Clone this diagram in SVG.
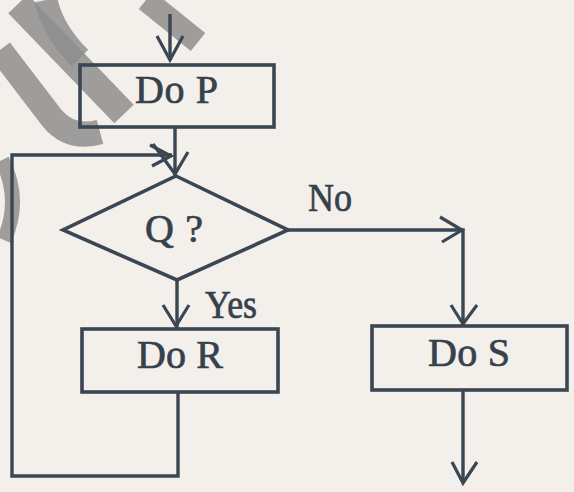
<svg xmlns="http://www.w3.org/2000/svg" width="574" height="492" viewBox="0 0 574 492">
<style>
.ln{fill:none;stroke:#3a4651;stroke-width:3.4;stroke-linejoin:miter}
.hd{fill:none;stroke:#3a4651;stroke-width:3.2}
.bx{fill:none;stroke:#3a4651;stroke-width:3.6}
.tx{font-family:"Liberation Serif","Times New Roman",serif;font-size:40px;fill:#36414b;stroke:#36414b;stroke-width:0.7}
.wm{fill:none;stroke:#8e8e8e;stroke-opacity:0.85;stroke-linecap:butt}
</style>
<rect x="0" y="0" width="574" height="492" fill="#f3efea"/>
<g id="watermark">
<line class="wm" x1="18" y1="4" x2="124" y2="114" stroke-width="27"/>
<path class="wm" d="M46,0 Q52,30 80,58" stroke-width="23"/>
<line class="wm" x1="146" y1="0" x2="198" y2="42" stroke-width="23"/>
<path class="wm" d="M0,50 L52,118 Q70,140 100,132" stroke-width="25"/>
<path class="wm" d="M2,160 Q22,200 4,240" stroke-width="15"/>
</g>
<g id="connectors">
<line class="ln" x1="170" y1="14" x2="170" y2="60"/>
<polyline class="hd" points="157,36 170,60 183,36"/>
<line class="ln" x1="175" y1="127" x2="175" y2="176"/>
<polyline class="hd" points="153,144 175,174 188,152"/>
<polyline class="ln" points="178,392 178,476 12,476 12,155 172,155"/>
<polyline class="hd" points="150,145 171,156 152,166"/>
<line class="ln" x1="177" y1="280" x2="177" y2="328"/>
<polyline class="hd" points="163,305 176,326 189,305"/>
<polyline class="ln" points="288,230 463,230 463,326"/>
<polyline class="hd" points="440,217 462,230 442,242"/>
<polyline class="hd" points="451,305 463,324 477,305"/>
<line class="ln" x1="463" y1="390" x2="463" y2="483"/>
<polyline class="hd" points="452,462 463,483 477,462"/>
</g>
<g id="doP">
<rect class="bx" x="80" y="65" width="194" height="62"/>
<text class="tx" x="135" y="103" textLength="83" lengthAdjust="spacing">Do P</text>
</g>
<g id="q">
<polygon class="bx" points="176,176 288,230 177,280 63,230"/>
<text class="tx" x="145" y="242" textLength="58" lengthAdjust="spacing">Q ?</text>
</g>
<g id="labels">
<text class="tx" x="205" y="318" textLength="52" lengthAdjust="spacingAndGlyphs">Yes</text>
<text class="tx" x="308" y="211" textLength="44" lengthAdjust="spacingAndGlyphs">No</text>
</g>
<g id="doR">
<rect class="bx" x="82" y="329" width="196" height="63"/>
<text class="tx" x="137" y="368" textLength="86" lengthAdjust="spacing">Do R</text>
</g>
<g id="doS">
<rect class="bx" x="372" y="326" width="195" height="64"/>
<text class="tx" x="428" y="366" textLength="82" lengthAdjust="spacing">Do S</text>
</g>
</svg>
